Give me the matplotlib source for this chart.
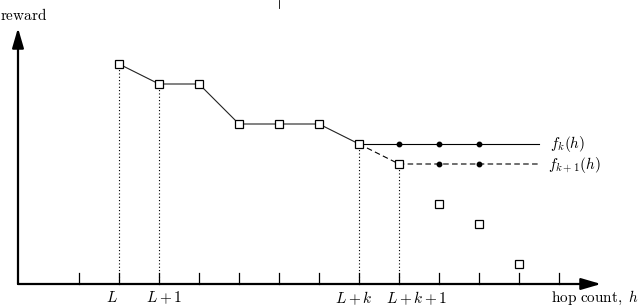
import numpy as np
import matplotlib.pyplot as plt

plt.rcParams['mathtext.fontset'] = 'cm'
plt.rcParams['font.family'] = 'serif'
plt.rcParams['font.serif'] = ['DejaVu Serif']

# hop count positions (tick index) and reward values
hops = [2, 3, 4, 5, 6, 7, 8, 9, 10, 11, 12]
reward = [11, 10, 10, 8, 8, 8, 7, 6, 4, 3, 1]

# f_k(h): flat continuation from L+k
fk_hops = [8, 9, 10, 11, 12.5]
fk_vals = [7, 7, 7, 7, 7]
fk_dots = [9, 10, 11]

# f_{k+1}(h): dashed continuation from L+k+1
fk1_hops = [8, 9, 10, 11, 12.5]
fk1_vals = [7, 6, 6, 6, 6]
fk1_dots = [10, 11]

ticks = list(range(1, 14))
# label text and its centre position along the hop axis
tick_labels = ['$L$', '$L+1$', '$L+k$', '$L+k+1$']
tick_label_pos = [1.83, 3.12, 7.87, 9.45]
dropped = [2, 3, 8, 9]  # hops with dotted drop lines

fig = plt.figure(figsize=(6.4, 3.06), dpi=100)
ax = fig.add_axes([0, 0, 1, 1])
ax.set_xlim(-0.975, 15.025)
ax.set_ylim(-1.1, 14.2)
ax.axis('off')

# axes with arrows
ax.annotate('', xy=(14.05, 0), xytext=(-0.525, 0),
            arrowprops=dict(arrowstyle='-|>,head_length=1.2,head_width=0.35',
                            color='black', lw=1.6, shrinkA=0, shrinkB=0))
ax.annotate('', xy=(-0.525, 12.8), xytext=(-0.525, 0),
            arrowprops=dict(arrowstyle='-|>,head_length=1.2,head_width=0.35',
                            color='black', lw=1.6, shrinkA=0, shrinkB=0))

# tick marks
for t in ticks:
    ax.plot([t, t], [0, 0.55], color='black', lw=0.9)

# dotted drop lines
for h in dropped:
    r = reward[hops.index(h)]
    ax.plot([h, h], [0, r], color='black', lw=0.8, ls=(0, (1, 2)))

# main solid line through first part
ax.plot(hops[:7], reward[:7], color='#222222', lw=0.8)
ax.plot(fk_hops, fk_vals, color='black', lw=0.8)
ax.plot(fk1_hops, fk1_vals, color='black', lw=0.8, ls=(0, (5, 3)))

ax.plot(fk_dots, [7] * len(fk_dots), 'o', color='black', ms=3.2)
ax.plot(fk1_dots, [6] * len(fk1_dots), 'o', color='black', ms=3.2)

ax.plot(hops, reward, 's', mfc='white', mec='black', mew=0.9, ms=6.2, zorder=5)

for lab, pos in zip(tick_labels, tick_label_pos):
    ax.text(pos, -0.7, lab, ha='center', va='center', fontsize=11)

ax.text(-0.975, 13.45, r'$\mathrm{reward}$', ha='left', va='center', fontsize=11)
ax.text(12.8, -0.7, r'$\mathrm{hop\ count},\ h$', ha='left', va='center', fontsize=11)
ax.text(12.78, 7, r'$f_k(h)$', ha='left', va='center', fontsize=11)
ax.text(12.73, 5.95, r'$f_{k+1}(h)$', ha='left', va='center', fontsize=11)

# small mark at the top of the page
ax.plot([6, 6], [13.8, 14.2], color='black', lw=0.6)

fig.savefig('out.png', dpi=100)
